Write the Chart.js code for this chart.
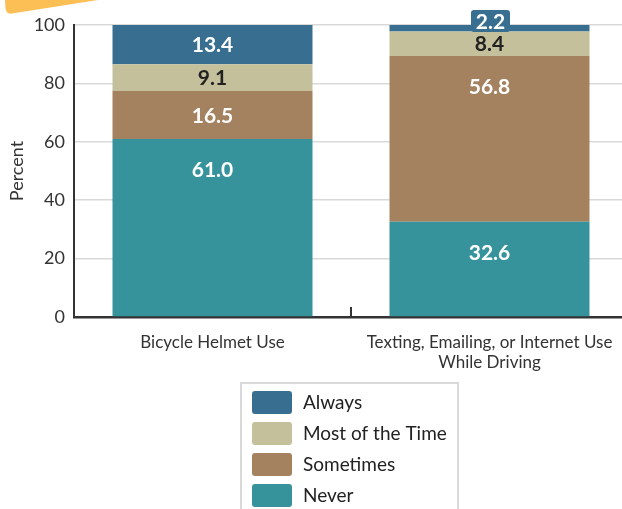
<!DOCTYPE html>
<html>
<head>
<meta charset="utf-8">
<script src="https://cdn.jsdelivr.net/npm/chart.js@4/dist/chart.umd.min.js"></script>
<style>
html, body { margin:0; padding:0; overflow:hidden; background:#fff; width:622px; height:509px; }
#wrap { position:absolute; left:0; top:0; width:628px; height:509px; }
</style>
</head>
<body>
<div id="wrap"><canvas id="c"></canvas></div>
<script>
const categories = [["Bicycle Helmet Use"], ["Texting, Emailing, or Internet Use", "While Driving"]];
const seriesNames = ["Never", "Sometimes", "Most of the Time", "Always"];
const neverVals = [61.0, 32.6];
const sometimesVals = [16.5, 56.8];
const mostVals = [9.1, 8.4];
const alwaysVals = [13.4, 2.2];
const yTicks = [0, 20, 40, 60, 80, 100];

const colors = ["#37939b", "#a5825f", "#c4c09b", "#386e8f"];
const labelColors = ["#ffffff", "#ffffff", "#222222", "#ffffff"];
const FONT = "Lato, 'Open Sans', sans-serif";

const decoPlugin = {
  id: 'deco',
  beforeDraw(chart) {
    const ctx = chart.ctx;
    ctx.save();
    ctx.fillStyle = '#fcbf55';
    ctx.beginPath();
    ctx.moveTo(5, 0);
    ctx.lineTo(98, 0);
    ctx.lineTo(12, 13.5);
    ctx.quadraticCurveTo(6, 14.5, 5.5, 8);
    ctx.closePath();
    ctx.fill();
    ctx.restore();
  }
};

const extrasPlugin = {
  id: 'extras',
  afterDraw(chart) {
    const ctx = chart.ctx;
    const xs = chart.scales.x;
    const area = chart.chartArea;
    ctx.save();
    ctx.strokeStyle = '#333';
    ctx.lineWidth = 2;
    for (let i = 0; i < categories.length - 1; i++) {
      const mx = (xs.getPixelForValue(i) + xs.getPixelForValue(i + 1)) / 2;
      ctx.beginPath();
      ctx.moveTo(Math.round(mx), area.bottom);
      ctx.lineTo(Math.round(mx), area.bottom - 10);
      ctx.stroke();
    }
    ctx.font = "bold 21px " + FONT;
    ctx.textAlign = 'center';
    ctx.textBaseline = 'middle';
    chart.data.datasets.forEach((ds, di) => {
      const meta = chart.getDatasetMeta(di);
      meta.data.forEach((el, i) => {
        const v = ds.data[i];
        const top = Math.min(el.y, el.base);
        const h = Math.abs(el.base - el.y);
        const txt = v.toFixed(1);
        if (h < 12) {
          const bw = 39, bh = 22, cy = top - 4;
          ctx.fillStyle = ds.backgroundColor;
          ctx.beginPath();
          ctx.roundRect(el.x - bw / 2 + 1, cy - bh / 2, bw, bh, 3);
          ctx.fill();
          ctx.fillStyle = labelColors[di];
          ctx.fillText(txt, el.x + 1, cy + 1);
        } else {
          const y = top + Math.min(30, h / 2);
          ctx.fillStyle = labelColors[di];
          ctx.fillText(txt, el.x, y + 1);
        }
      });
    });
    const lx = 241, ly = 383, lw = 217, lh = 140;
    ctx.strokeStyle = '#d9d9d9';
    ctx.lineWidth = 2;
    ctx.strokeRect(lx, ly, lw, lh);
    ctx.font = "19px " + FONT;
    ctx.textAlign = 'left';
    const order = chart.data.datasets.map((d, i) => i).reverse();
    order.forEach((di, k) => {
      const ds = chart.data.datasets[di];
      const sy = 391 + k * 31;
      ctx.fillStyle = ds.backgroundColor;
      ctx.beginPath();
      ctx.roundRect(252, sy, 40, 23, 3);
      ctx.fill();
      ctx.fillStyle = '#222';
      ctx.fillText(ds.label, 303, sy + 12);
    });
    ctx.restore();
  }
};

const valueSets = [neverVals, sometimesVals, mostVals, alwaysVals];

new Chart(document.getElementById('c'), {
  type: 'bar',
  data: {
    labels: categories,
    datasets: seriesNames.map((n, i) => ({
      label: n,
      data: valueSets[i],
      backgroundColor: colors[i],
      borderWidth: 0,
      barPercentage: 0.722,
      categoryPercentage: 1.0
    }))
  },
  options: {
    responsive: true,
    maintainAspectRatio: false,
    animation: false,
    devicePixelRatio: 1,
    layout: { padding: { top: 25, right: 0, bottom: 0, left: 0 } },
    plugins: { legend: { display: false }, tooltip: { enabled: false } },
    scales: {
      x: {
        stacked: true,
        grid: { display: false },
        border: { display: true, color: '#333', width: 2.5 },
        ticks: { color: '#333', font: { family: FONT, size: 17, lineHeight: 1.2 }, padding: 7, maxRotation: 0, autoSkip: false },
        afterFit(s) { s.height = 192; }
      },
      y: {
        stacked: true,
        min: 0, max: 100,
        afterBuildTicks(s) { s.ticks = yTicks.map(v => ({ value: v })); },
        grid: { color: '#d9d9d9', lineWidth: 1.5, drawTicks: false },
        border: { display: true, color: '#333', width: 2 },
        ticks: { color: '#333', font: { family: FONT, size: 18 }, padding: 9 },
        title: { display: true, text: 'Percent', color: '#333', font: { family: FONT, size: 18 }, padding: { top: 6, bottom: 0 } },
        afterFit(s) { s.width = 74; }
      }
    }
  },
  plugins: [decoPlugin, extrasPlugin]
});
</script>
</body>
</html>
